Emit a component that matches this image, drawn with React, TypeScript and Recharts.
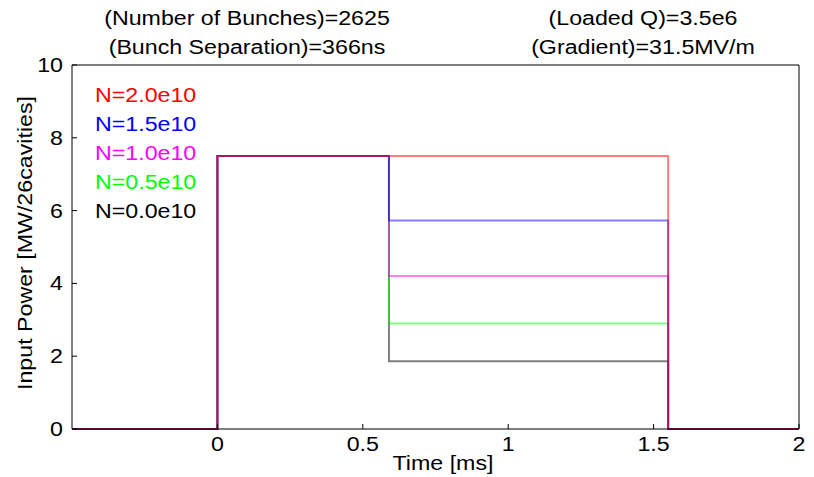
import { LineChart, Line, XAxis, YAxis } from "recharts";

const titleLeft = ["(Number of Bunches)=2625", "(Bunch Separation)=366ns"];
const titleRight = ["(Loaded Q)=3.5e6", "(Gradient)=31.5MV/m"];

// pulse timing [ms]: window start, RF on, beam on, RF off, window end
const times = [-0.5, 0, 0.59, 1.55, 2];
const fillPower = 7.5;

// drawn in this order (black first, red on top)
const bunchCharges = ["N=0.0e10", "N=0.5e10", "N=1.0e10", "N=1.5e10", "N=2.0e10"];
const flatTopPower = [1.86, 2.9, 4.2, 5.73, 7.5];
const colors = ["#000000", "#00ff00", "#ff00ff", "#0000ff", "#ff0000"];

const xTicks = [0, 0.5, 1, 1.5, 2];
const yTicks = [0, 2, 4, 6, 8, 10];

const FONT = '"Liberation Sans", Arial, Helvetica, sans-serif';
const STRETCH = 1.16;

const series = flatTopPower.map((flat, i) => ({
  name: bunchCharges[i],
  color: colors[i],
  data: times.map((t, k) => ({ t, p: [0, fillPower, flat, 0, 0][k] })),
}));

function XTick(props: any) {
  const { x, y, payload } = props;
  return (
    <text
      transform={`translate(${x},${y + 15}) scale(${STRETCH},1)`}
      textAnchor="middle"
      fontSize={20}
      fontFamily={FONT}
      fill="#000"
    >
      {payload.value}
    </text>
  );
}

function YTick(props: any) {
  const { x, y, payload } = props;
  return (
    <text
      transform={`translate(${x},${y + 7}) scale(${STRETCH},1)`}
      textAnchor="end"
      fontSize={20}
      fontFamily={FONT}
      fill="#000"
    >
      {payload.value}
    </text>
  );
}

const textBase: React.CSSProperties = {
  position: "absolute",
  whiteSpace: "nowrap",
  fontSize: 20,
  lineHeight: "22px",
  fontFamily: FONT,
};

function Centered({ x, y, children }: { x: number; y: number; children: any }) {
  return (
    <div
      style={{
        ...textBase,
        left: x,
        top: y - 11,
        transform: `translateX(-50%) scaleX(${STRETCH})`,
      }}
    >
      {children}
    </div>
  );
}

export default function App() {
  return (
    <div
      style={{
        position: "absolute",
        left: 0,
        top: 0,
        width: 814,
        height: 477,
        background: "#fff",
        fontFamily: FONT,
      }}
    >
      <LineChart
        width={814}
        height={477}
        margin={{ top: 64, right: 14, bottom: 0, left: 0 }}
      >
        <XAxis
          xAxisId="t"
          dataKey="t"
          type="number"
          domain={[-0.5, 2]}
          ticks={xTicks}
          allowDataOverflow
          height={48}
          stroke="#000"
          tickSize={-5}
          tickMargin={12}
          tick={<XTick />}
        />
        <XAxis
          xAxisId="top"
          dataKey="t"
          orientation="top"
          type="number"
          domain={[-0.5, 2]}
          ticks={xTicks}
          allowDataOverflow
          height={1}
          stroke="#000"
          tickSize={-5}
          tick={false}
        />
        <YAxis
          yAxisId="p"
          type="number"
          domain={[0, 10]}
          ticks={yTicks}
          width={72}
          stroke="#000"
          tickSize={-5}
          tickMargin={14}
          tick={<YTick />}
        />
        <YAxis
          yAxisId="r"
          orientation="right"
          type="number"
          domain={[0, 10]}
          ticks={yTicks}
          width={1}
          stroke="#000"
          tickSize={-5}
          tick={false}
        />
        {/* invisible copy so the frame axes have a series of their own */}
        <Line
          xAxisId="top"
          yAxisId="r"
          data={series[0].data}
          dataKey="p"
          stroke="none"
          dot={false}
          activeDot={false}
          isAnimationActive={false}
        />
        {series.map((s) => (
          <Line
            key={s.name}
            xAxisId="t"
            yAxisId="p"
            data={s.data}
            dataKey="p"
            type="stepAfter"
            stroke={s.color}
            strokeOpacity={0.5}
            strokeWidth={2}
            dot={false}
            activeDot={false}
            isAnimationActive={false}
          />
        ))}
      </LineChart>

      <Centered x={247} y={18}>{titleLeft[0]}</Centered>
      <Centered x={247} y={47}>{titleLeft[1]}</Centered>
      <Centered x={643} y={18}>{titleRight[0]}</Centered>
      <Centered x={643} y={47}>{titleRight[1]}</Centered>

      {series
        .slice()
        .reverse()
        .map((s, i) => (
          <div
            key={s.name}
            style={{
              ...textBase,
              left: 95,
              top: 84 + i * 29,
              color: s.color,
              transformOrigin: "left center",
              transform: `scaleX(${STRETCH})`,
            }}
          >
            {s.name}
          </div>
        ))}

      <Centered x={443} y={463}>Time [ms]</Centered>
      <div
        style={{
          ...textBase,
          left: 25,
          top: 243 - 11,
          transform: `translateX(-50%) rotate(-90deg) scaleX(${STRETCH})`,
        }}
      >
        Input Power [MW/26cavities]
      </div>
    </div>
  );
}
